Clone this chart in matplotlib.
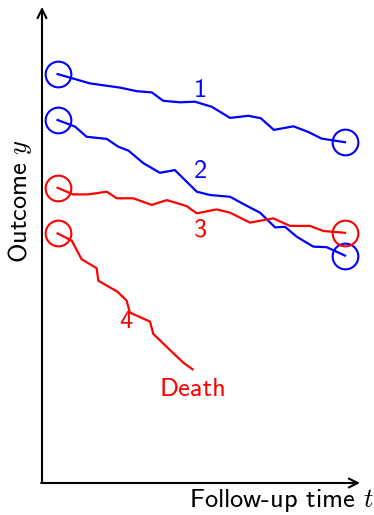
import numpy as np
import matplotlib
matplotlib.use('Agg')
import matplotlib.pyplot as plt

"""Sketch of outcome trajectories over follow-up time"""

plt.rcParams['font.family'] = 'cmss10'
plt.rcParams['mathtext.fontset'] = 'cm'
plt.rcParams['axes.unicode_minus'] = False

#Trajectories (time, outcome)
t1 = [0.52, 1.6, 2.6, 3.16, 3.66, 4.04, 4.6, 5.1, 5.66, 6.27, 6.88, 7.29, 7.73, 8.38, 8.88, 9.32, 10.1]
y1 = [13.63, 13.32, 13.18, 13.06, 13.02, 12.74, 12.69, 12.71, 12.54, 12.17, 12.24, 12.16, 11.77, 11.89, 11.70, 11.48, 11.36]

t2 = [0.52, 1.1, 1.49, 2.16, 2.54, 2.88, 3.38, 3.93, 4.43, 5.16, 5.6, 6.27, 6.88, 7.27, 7.77, 8.1, 8.49, 9.04, 9.49, 10.1]
y2 = [12.1, 11.88, 11.54, 11.47, 11.21, 11.08, 10.66, 10.34, 10.43, 9.71, 9.6, 9.54, 9.21, 9.01, 8.52, 8.54, 8.21, 7.88, 7.86, 7.58]

t3 = [0.52, 1.04, 1.54, 2.16, 2.49, 3.04, 3.66, 4.16, 4.82, 5.16, 5.82, 6.27, 6.93, 7.71, 8.27, 8.93, 9.38, 10.1]
y3 = [9.84, 9.62, 9.62, 9.71, 9.49, 9.49, 9.27, 9.43, 9.23, 8.99, 9.12, 9.01, 8.68, 8.82, 8.57, 8.57, 8.4, 8.34]

t4 = [0.52, 0.99, 1.32, 1.82, 1.88, 2.51, 2.82, 2.93, 3.6, 3.71, 4.27, 4.71, 5.02]
y4 = [8.32, 8.08, 7.46, 7.16, 6.74, 6.38, 6.08, 5.68, 5.38, 4.97, 4.43, 4.01, 3.79]

series = [(t1, y1), (t2, y2), (t3, y3), (t4, y4)]
colors = ['#0000ff', '#0000ff', '#ff0000', '#ff0000']
labels = ['1', '2', '3', '4']
label_pos = [(5.29, 13.08), (5.29, 10.38), (5.29, 8.43), (2.79, 5.38)]
completed = [True, True, True, False]

fig = plt.figure(figsize=(3.74, 5.15), dpi=100)
ax = fig.add_axes([0, 0, 1, 1])
ax.set_xlim(-1.4, 11.0667)
ax.set_ylim(-1.0667, 16.1)
ax.axis('off')

#Axes with arrows
arrow = dict(arrowstyle='->', lw=1.5, color='black', shrinkA=0, shrinkB=0, mutation_scale=16)
ax.annotate('', xy=(0, 15.87), xytext=(0, 0), arrowprops=arrow)
ax.annotate('', xy=(10.6, 0), xytext=(-0.03, 0), arrowprops=arrow)

for (t, y), c, lab, pos, done in zip(series, colors, labels, label_pos, completed):
    ax.plot(t, y, color=c, lw=1.6)
    ax.plot(t[0], y[0], 'o', mfc='none', mec=c, ms=18.5, mew=1.5)
    if done:
        ax.plot(t[-1], y[-1], 'o', mfc='none', mec=c, ms=18.5, mew=1.5)
    ax.text(pos[0], pos[1], lab, color=c, fontsize=19, ha='center', va='center')

ax.text(5.04, 3.1, 'Death', color='#ff0000', fontsize=19, ha='center', va='center')

#Cosmetics
ax.text(7.97, -0.6, 'Follow-up time $t$', fontsize=19, ha='center', va='center')
ax.text(-0.73, 9.4, 'Outcome $y$', fontsize=19, ha='center', va='center', rotation=90)

plt.savefig('out.png', dpi=100)
